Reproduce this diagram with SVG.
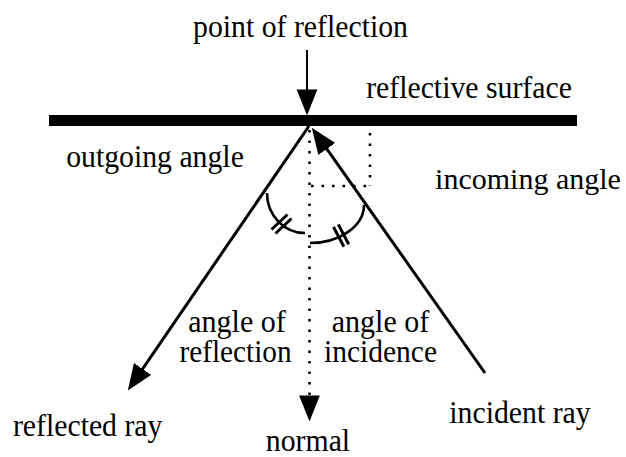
<svg xmlns="http://www.w3.org/2000/svg" width="626" height="457" viewBox="0 0 626 457">
  <style>
    text { font-family: "Liberation Serif", "Times New Roman", serif; font-size: 31px; fill: #000; text-anchor: middle; }
    .ray { stroke: #000; stroke-width: 3; fill: none; }
    .thin { stroke: #000; stroke-width: 2; fill: none; }
    .dot { stroke: #000; stroke-width: 2.6; fill: none; stroke-dasharray: 2.6 7.9; }
    .arc { stroke: #000; stroke-width: 2.6; fill: none; }
    .tick { stroke: #000; stroke-width: 3; fill: none; }
  </style>
  <defs>
    <marker id="arrow" markerUnits="userSpaceOnUse" markerWidth="26" markerHeight="22" viewBox="0 0 25 20" refX="15" refY="10" orient="auto">
      <path d="M0,0 L25,10 L0,20 z" fill="#000"/>
    </marker>
  </defs>

  <g id="surface">
    <rect x="49" y="115" width="528" height="11" fill="#000"/>
    <text x="469" y="98" textLength="205.7" lengthAdjust="spacingAndGlyphs">reflective surface</text>
  </g>

  <g id="point-of-reflection">
    <text x="300.5" y="37" textLength="214.9" lengthAdjust="spacingAndGlyphs">point of reflection</text>
  </g>

  <g id="outgoing-angle">
    <text x="155" y="167" textLength="177.7" lengthAdjust="spacingAndGlyphs">outgoing angle</text>
  </g>

  <g id="incoming-angle">
    <text x="528" y="189" style="font-size:30px">incoming angle</text>
  </g>

  <g id="angle-of-reflection">
    <text x="237" y="332" textLength="97.5" lengthAdjust="spacingAndGlyphs">angle of</text>
    <text x="235.5" y="362" textLength="112" lengthAdjust="spacingAndGlyphs">reflection</text>
    <path class="arc" d="M267,193 A38,40 0 0,0 305,233"/>
    <line class="tick" x1="271.5" y1="229.5" x2="287.5" y2="214.5"/>
    <line class="tick" x1="275.5" y1="233.5" x2="291.5" y2="218.5"/>
  </g>

  <g id="angle-of-incidence">
    <text x="380.5" y="332" textLength="97.5" lengthAdjust="spacingAndGlyphs">angle of</text>
    <text x="380.5" y="362" textLength="113" lengthAdjust="spacingAndGlyphs">incidence</text>
    <path class="arc" d="M310,243 A54,38 0 0,0 364,205"/>
    <line class="tick" x1="333.5" y1="227" x2="343.9" y2="246.8"/>
    <line class="tick" x1="338.3" y1="224.4" x2="348.7" y2="244.2"/>
  </g>

  <g id="reflected-ray">
    <text x="87.7" y="436" textLength="149.5" lengthAdjust="spacingAndGlyphs">reflected ray</text>
  </g>

  <g id="incident-ray">
    <text x="520" y="423" textLength="141.3" lengthAdjust="spacingAndGlyphs">incident ray</text>
  </g>

  <g id="normal">
    <text x="308" y="451" textLength="84.3" lengthAdjust="spacingAndGlyphs">normal</text>
  </g>

  <g id="connectors">
    <line class="thin" x1="307" y1="50" x2="307" y2="105" marker-end="url(#arrow)"/>
    <line class="ray" x1="309" y1="126" x2="133.7" y2="381.8" marker-end="url(#arrow)"/>
    <line class="ray" x1="485" y1="373" x2="317.8" y2="136.2" marker-end="url(#arrow)"/>
    <line class="dot" x1="309.5" y1="130" x2="309.5" y2="411" marker-end="url(#arrow)"/>
    <line class="dot" x1="370" y1="133" x2="370" y2="186"/>
    <line class="dot" x1="311" y1="186" x2="370" y2="186"/>
  </g>
</svg>
